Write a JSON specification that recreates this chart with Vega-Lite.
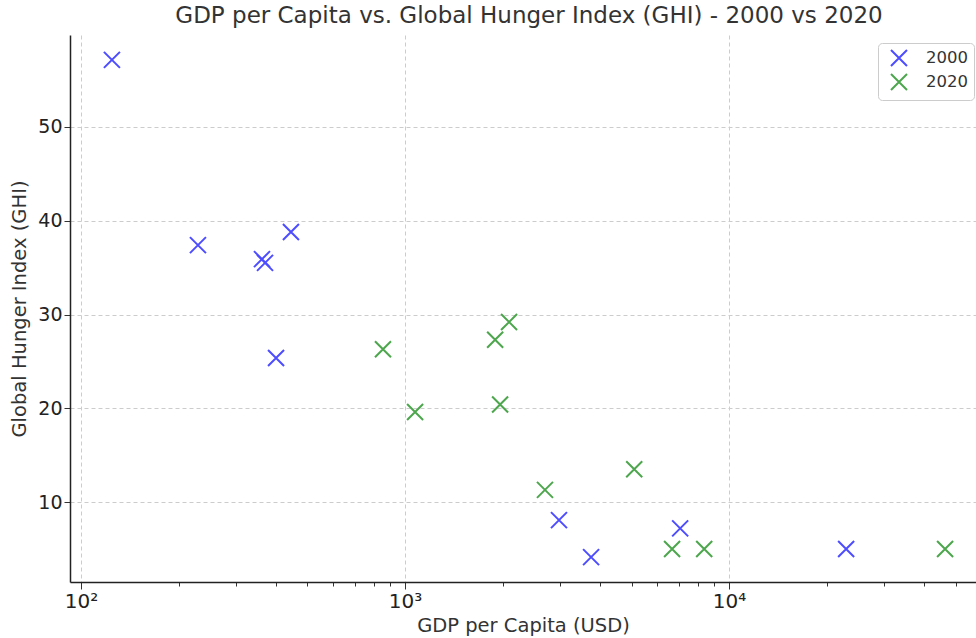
{
  "$schema": "https://vega.github.io/schema/vega-lite/v6.json",
  "autosize": "none",
  "width": 906,
  "height": 547,
  "padding": {"left": 70, "top": 35, "right": 0, "bottom": 56},
  "background": "white",
  "title": {
    "text": "GDP per Capita vs. Global Hunger Index (GHI) - 2000 vs 2020",
    "font": "DejaVu Sans",
    "fontSize": 23,
    "fontWeight": "normal",
    "color": "#333",
    "anchor": "middle",
    "dx": 6,
    "offset": 7
  },
  "config": {
    "view": {"stroke": null},
    "font": "DejaVu Sans"
  },
  "data": {
    "values": [
      {"year": "2000", "gdp": 124.6, "ghi": 57.15},
      {"year": "2000", "gdp": 229.6, "ghi": 37.4},
      {"year": "2000", "gdp": 361.9, "ghi": 35.9},
      {"year": "2000", "gdp": 369.8, "ghi": 35.5},
      {"year": "2000", "gdp": 444.6, "ghi": 38.8},
      {"year": "2000", "gdp": 399.9, "ghi": 25.36},
      {"year": "2000", "gdp": 2986, "ghi": 8.08},
      {"year": "2000", "gdp": 3751, "ghi": 4.13},
      {"year": "2000", "gdp": 7063, "ghi": 7.2},
      {"year": "2000", "gdp": 22970, "ghi": 5.0},
      {"year": "2020", "gdp": 855, "ghi": 26.3},
      {"year": "2020", "gdp": 1074, "ghi": 19.6},
      {"year": "2020", "gdp": 1897, "ghi": 27.3},
      {"year": "2020", "gdp": 2094, "ghi": 29.2},
      {"year": "2020", "gdp": 1965, "ghi": 20.4},
      {"year": "2020", "gdp": 2703, "ghi": 11.3},
      {"year": "2020", "gdp": 5096, "ghi": 13.5},
      {"year": "2020", "gdp": 6669, "ghi": 5.0},
      {"year": "2020", "gdp": 8379, "ghi": 5.0},
      {"year": "2020", "gdp": 46400, "ghi": 5.0}
    ]
  },
  "mark": {
    "type": "point",
    "shape": "M-1,-1L1,1M-1,1L1,-1",
    "filled": false,
    "strokeWidth": 2,
    "size": 256,
    "opacity": 1
  },
  "encoding": {
    "x": {
      "field": "gdp",
      "type": "quantitative",
      "scale": {"type": "log", "domain": [92.5, 57800], "nice": false},
      "axis": {
        "title": "GDP per Capita (USD)",
        "titleFontSize": 19.5,
        "titleFontWeight": "normal",
        "titleColor": "#333",
        "titlePadding": 5,
        "values": [100, 200, 300, 400, 500, 600, 700, 800, 900, 1000, 2000, 3000, 4000, 5000, 6000, 7000, 8000, 9000, 10000, 20000, 30000, 40000, 50000],
        "labelExpr": "datum.value == 100 ? '10²' : datum.value == 1000 ? '10³' : datum.value == 10000 ? '10⁴' : ''",
        "labelOverlap": false,
        "labelFlush": false,
        "labelFontSize": 20,
        "labelColor": "#222",
        "labelPadding": 2,
        "tickSize": {"condition": {"test": "datum.value == 100 || datum.value == 1000 || datum.value == 10000", "value": 7}, "value": 4},
        "tickColor": "#333",
        "tickWidth": 1,
        "domainColor": "#222",
        "domainWidth": 1.5,
        "grid": true,
        "gridColor": "#cccccc",
        "gridDash": [4, 3],
        "gridWidth": 1,
        "gridOpacity": {"condition": {"test": "datum.value == 100 || datum.value == 1000 || datum.value == 10000", "value": 1}, "value": 0}
      }
    },
    "y": {
      "field": "ghi",
      "type": "quantitative",
      "scale": {"domain": [1.48, 59.8], "nice": false, "zero": false},
      "axis": {
        "title": "Global Hunger Index (GHI)",
        "titleFontSize": 19.5,
        "titleFontWeight": "normal",
        "titleColor": "#333",
        "titlePadding": 8,
        "values": [10, 20, 30, 40, 50],
        "labelFontSize": 19,
        "labelColor": "#222",
        "labelPadding": 2,
        "tickSize": 6,
        "tickColor": "#333",
        "domainColor": "#222",
        "domainWidth": 1.5,
        "grid": true,
        "gridColor": "#cccccc",
        "gridDash": [4, 3],
        "gridWidth": 1
      }
    },
    "color": {
      "field": "year",
      "type": "nominal",
      "scale": {"domain": ["2000", "2020"], "range": ["#4d4dff", "#4da64d"]},
      "legend": {
        "title": null,
        "orient": "none",
        "legendX": 808,
        "legendY": 8,
        "padding": 6,
        "strokeColor": "#cccccc",
        "fillColor": "white",
        "cornerRadius": 4,
        "labelFontSize": 16.5,
        "labelColor": "#333",
        "labelOffset": 18,
        "rowPadding": 0,
        "symbolType": "M-1,-1L1,1M-1,1L1,-1",
        "symbolSize": 256,
        "symbolStrokeWidth": 2,
        "symbolFillColor": "transparent",
        "symbolOffset": 6
      }
    }
  }
}
